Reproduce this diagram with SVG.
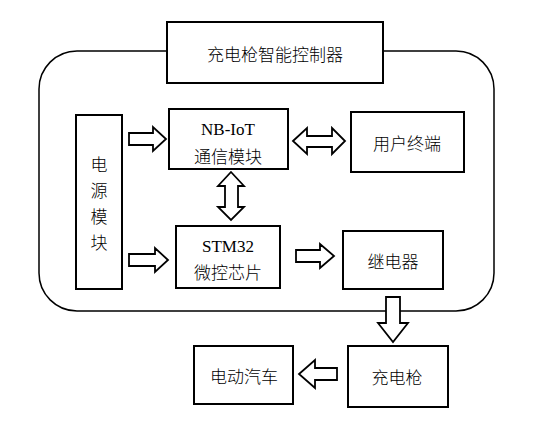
<svg xmlns="http://www.w3.org/2000/svg" width="546" height="444" viewBox="0 0 546 444">
<style>
.box{fill:#fff;stroke:#000;stroke-width:2}
.frame{fill:none;stroke:#000;stroke-width:1.5}
.arr{fill:#fff;stroke:#000;stroke-width:1.8;stroke-linejoin:miter}
text{font-family:"Liberation Serif","Noto Sans CJK SC",serif;font-size:17px;fill:#000;text-anchor:middle}
.cn{font-family:"Noto Sans CJK SC",sans-serif;font-size:17px;font-weight:300;dominant-baseline:central}
</style>
<rect width="546" height="444" fill="#fff"/>
<rect class="frame" x="39" y="51" width="455" height="260" rx="38" ry="38"/>
<g id="title"><rect class="box" x="167" y="22" width="216" height="61"/><text class="cn" x="275" y="53">充电枪智能控制器</text></g>
<g id="power"><rect class="box" x="76" y="115" width="46" height="174"/>
<text class="cn" x="99" y="163">电</text><text class="cn" x="99" y="189">源</text><text class="cn" x="99" y="215">模</text><text class="cn" x="99" y="241">块</text></g>
<g id="nbiot"><rect class="box" x="169" y="109" width="119" height="60"/><text x="228" y="135">NB-IoT</text><text class="cn" x="228" y="155">通信模块</text></g>
<g id="stm32"><rect class="box" x="176" y="226" width="104" height="62"/><text x="228" y="252">STM32</text><text class="cn" x="228" y="271">微控芯片</text></g>
<g id="user"><rect class="box" x="351" y="112" width="113" height="60"/><text class="cn" x="407" y="142">用户终端</text></g>
<g id="relay"><rect class="box" x="343" y="231" width="100" height="58"/><text class="cn" x="393" y="260">继电器</text></g>
<g id="gun"><rect class="box" x="348" y="346" width="100" height="61"/><text class="cn" x="397" y="376">充电枪</text></g>
<g id="ev"><rect class="box" x="194" y="346" width="99" height="58"/><text class="cn" x="244" y="375">电动汽车</text></g>
<g id="connectors">
<polygon class="arr" points="129,133 153,133 153,127 166,139 153,151 153,145 129,145"/>
<polygon class="arr" points="129,254 155,254 155,248 168,260 155,272 155,266 129,266"/>
<polygon class="arr" points="231,172 244,186 238,186 238,207 244,207 231,220 218,207 225,207 225,186 218,186"/>
<polygon class="arr" points="293,141 307,128 307,136 332,136 332,128 345,141 332,154 332,147 307,147 307,154"/>
<polygon class="arr" points="296,250 320,250 320,244 334,256 320,268 320,262 296,262"/>
<polygon class="arr" points="386,297 400,297 400,323 408,323 393,342 378,323 386,323"/>
<polygon class="arr" points="337,368 315,368 315,360 299,374 315,388 315,380 337,380"/>
</g>
</svg>
